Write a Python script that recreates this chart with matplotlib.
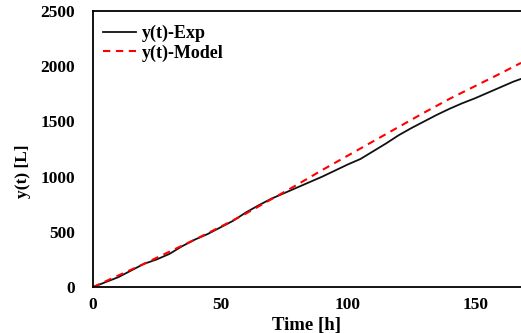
import matplotlib
matplotlib.use("Agg")
import matplotlib.pyplot as plt

t_exp = [0, 5, 10, 15, 20, 25, 30, 35, 40, 45, 50, 55, 60, 65, 70, 75, 80, 85, 90,
         95, 100, 105, 110, 115, 120, 125, 130, 135, 140, 145, 150, 155, 160, 165, 168]
y_exp = [0, 45, 90, 150, 210, 250, 300, 370, 430, 480, 540, 600, 675, 740, 800, 850,
         900, 950, 1000, 1055, 1110, 1160, 1230, 1300, 1375, 1440, 1500, 1560, 1615,
         1665, 1710, 1760, 1810, 1860, 1885]

t_model = [0, 10, 20, 30, 40, 50, 60, 70, 80, 90, 100, 110, 120, 130, 140, 150, 160, 168]
y_model = [0, 105, 210, 320, 430, 545, 665, 795, 925, 1060, 1190, 1320, 1450, 1580,
           1705, 1820, 1935, 2030]

xticks = [0, 50, 100, 150]
yticks = [0, 500, 1000, 1500, 2000, 2500]

plt.rcParams['font.family'] = ['Liberation Serif', 'DejaVu Serif']
plt.rcParams['font.weight'] = 'bold'

fig = plt.figure(figsize=(5.21, 3.33), dpi=100)
ax = fig.add_axes([0.1785, 0.138, 0.8215, 0.829])
ax.plot(t_exp, y_exp, color='#111111', lw=1.3, label='y(t)-Exp')
ax.plot(t_model, y_model, color='red', lw=1.5, ls=(0, (3.5, 2.7)), label='y(t)-Model')
ax.set_xlim(0, 168)
ax.set_ylim(0, 2500)
ax.set_xticks(xticks)
ax.set_yticks(yticks)
ax.tick_params(length=0, labelsize=12.5)
ax.tick_params(axis='x', pad=7)
ax.tick_params(axis='y', pad=13)
for lab in ax.get_xticklabels() + ax.get_yticklabels():
    lab.set_fontweight('bold')
ax.spines['right'].set_visible(False)
for s in ['left', 'bottom', 'top']:
    ax.spines[s].set_linewidth(1.3)
ax.set_xlabel('Time [h]', fontsize=13.5, fontweight='bold', labelpad=3)
ax.set_ylabel('y(t) [L]', fontsize=12.5, fontweight='bold')
ax.yaxis.set_label_coords(-0.145, 0.42)
leg = ax.legend(loc='upper left', bbox_to_anchor=(0, 0.985), frameon=False,
                handlelength=1.85, handletextpad=0.3, borderaxespad=0.15,
                labelspacing=0.12, prop={'weight': 'bold', 'size': 13})
fig.savefig('out.png', dpi=100)
